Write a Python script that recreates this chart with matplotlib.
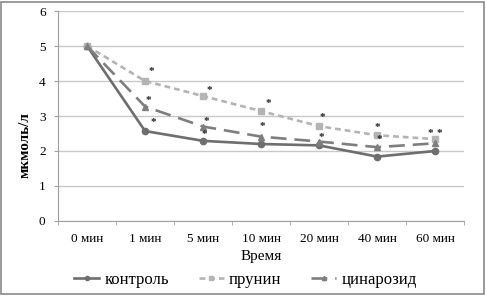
import matplotlib
matplotlib.use("Agg")
import matplotlib.pyplot as plt
from matplotlib.lines import Line2D
from matplotlib.patches import Rectangle
import numpy as np

plt.rcParams['font.family'] = ['Liberation Serif', 'DejaVu Serif']

categories = ["0 мин", "1 мин", "5 мин", "10 мин", "20 мин", "40 мин", "60 мин"]
kontrol = [5.0, 2.57, 2.29, 2.2, 2.16, 1.84, 2.0]
prunin = [5.0, 4.0, 3.57, 3.14, 2.71, 2.45, 2.34]
cynaroside = [5.0, 3.27, 2.70, 2.41, 2.27, 2.11, 2.22]

# significance asterisks: (category index, value)
star_idx = [1, 1, 1, 2, 2, 2, 3, 3, 4, 4, 5, 5, 6, 6]
star_val = [4.27, 3.44, 2.82, 3.74, 2.84, 2.46, 3.36, 2.69, 2.95, 2.39, 2.68, 2.33, 2.5, 2.5]
star_off = [0.11, 0.06, 0.15, 0.11, 0.05, 0.03, 0.12, 0.03, 0.05, 0.03, 0.0, 0.04, -0.08, 0.08]

fig = plt.figure(figsize=(4.86, 2.96), dpi=100)
fig.patches.append(Rectangle((0.003, 0.008), 0.993, 0.985, transform=fig.transFigure,
                             fill=False, edgecolor='#8a8a8a', linewidth=1.2))
ax = fig.add_axes([0.1195, 0.2534, 0.8355, 0.7094])

x = np.arange(len(categories))
c_k = '#6e6e6e'
c_p = '#b4b4b4'
c_c = '#7e7e7e'
ax.plot(x, kontrol, color=c_k, lw=1.9, marker='o', ms=4.5, label='контроль')
ax.plot(x, prunin, color=c_p, lw=1.9, ls=(0, (2.2, 1.5)), marker='s', ms=4.5, label='прунин')
ax.plot(x, cynaroside, color=c_c, lw=1.9, ls=(0, (6, 3)), marker='^', ms=5, label='цинарозид')

for i, v, o in zip(star_idx, star_val, star_off):
    ax.text(x[i] + o, v, '*', ha='center', va='center', fontsize=8, fontweight='bold', color='#222222')

ax.set_xlim(-0.5, len(categories) - 0.5)
ax.set_ylim(0, 6)
ax.set_yticks(range(0, 7))
ax.set_xticks(x)
ax.set_xticklabels(categories, fontsize=9.5)
ax.set_xticks(np.arange(-0.5, len(categories)), minor=True)
ax.tick_params(axis='x', which='major', length=0, pad=9)
ax.tick_params(axis='x', which='minor', length=3, color='#a0a0a0')
ax.tick_params(axis='y', labelsize=9.5, length=3, color='#a0a0a0', pad=6)
ax.grid(axis='y', color='#c8c8c8', lw=1.0)
ax.set_axisbelow(True)
for s in ['top', 'right']:
    ax.spines[s].set_visible(False)
for s in ['left', 'bottom']:
    ax.spines[s].set_color('#a0a0a0')
ax.set_xlabel('Время', fontsize=11, labelpad=3)
ax.set_ylabel('мкмоль/л', fontsize=11, fontweight='bold', va='center')
ax.yaxis.set_label_coords(-0.081, 0.362)

handles = [
    Line2D([], [], color=c_k, lw=1.9, marker='o', ms=3),
    Line2D([], [], color=c_p, lw=1.9, ls=(0, (2.2, 1.5)), marker='s', ms=3),
    Line2D([], [], color=c_c, lw=1.9, ls=(0, (6, 3)), marker='^', ms=3),
]
fig.legend(handles, ['контроль', 'прунин', 'цинарозид'], loc='center', bbox_to_anchor=(0.505, 0.054),
           ncol=3, frameon=False, fontsize=12, handlelength=1.5, handletextpad=0.3, columnspacing=1.8)

fig.savefig('out.png', dpi=100)
